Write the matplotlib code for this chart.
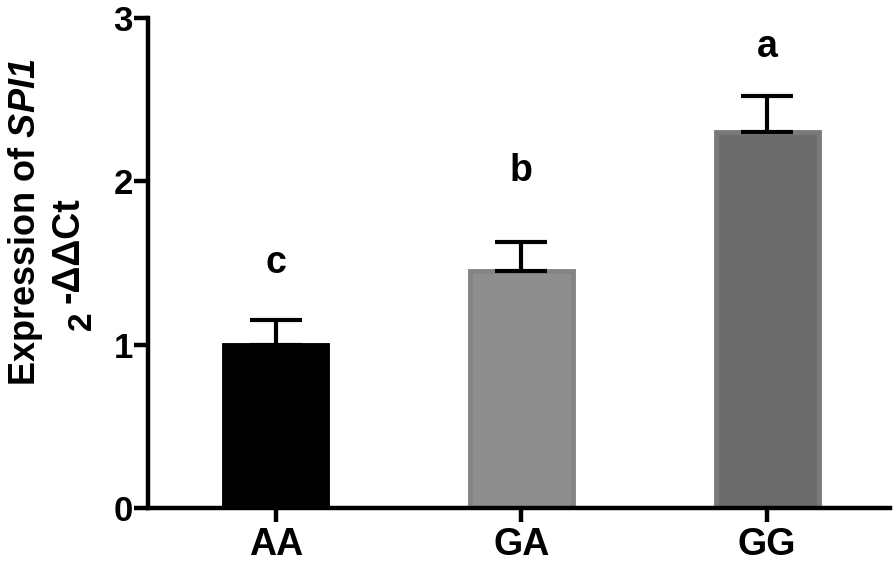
import matplotlib.pyplot as plt

plt.rcParams['font.family'] = ['Liberation Sans', 'DejaVu Sans']
plt.rcParams['font.weight'] = 'bold'
plt.rcParams['mathtext.fontset'] = 'custom'
plt.rcParams['mathtext.rm'] = 'Liberation Sans:bold'
plt.rcParams['mathtext.bf'] = 'Liberation Sans:bold'
plt.rcParams['mathtext.it'] = 'Liberation Sans:bold'
plt.rcParams['mathtext.sf'] = 'Liberation Sans:bold:italic'

# data
genotypes = ['AA', 'GA', 'GG']
expr = [1.00, 1.45, 2.30]
sem = [0.15, 0.18, 0.22]
letters = ['c', 'b', 'a']
letter_y = [1.44, 2.00, 2.76]

fill_colors = ['#000000', '#8e8e8e', '#6c6c6c']
edge_colors = ['#000000', '#848484', '#7a7a7a']

W, H = 894, 572
fig = plt.figure(figsize=(W / 100, H / 100), dpi=100)
ax = fig.add_axes([0.1655, 0.112, 0.83, 0.857])

x = list(range(len(genotypes)))
ax.bar(x, expr, width=0.42, color=fill_colors, edgecolor=edge_colors,
       linewidth=3.5, zorder=2)
ax.errorbar(x, expr, yerr=[[0] * len(sem), sem], fmt='none', ecolor='black',
            elinewidth=3, capsize=19, capthick=3, zorder=3)

for xi, lab, ly in zip(x, letters, letter_y):
    ax.text(xi, ly, lab, ha='center', va='baseline', fontsize=27, fontweight='bold')

ax.set_xlim(-0.52, 2.5)
ax.set_ylim(0, 3)
ax.set_yticks([0, 1, 2, 3])
ax.set_xticks(x)
ax.set_xticklabels(genotypes)

for s in ['top', 'right']:
    ax.spines[s].set_visible(False)
for s in ['left', 'bottom']:
    ax.spines[s].set_linewidth(3.2)
ax.tick_params(axis='both', width=3.2, length=10)
ax.tick_params(axis='y', pad=1, labelsize=25)
ax.tick_params(axis='x', pad=4, labelsize=27)

# y label: two lines, the second one is 2^-ΔΔCt
fig.text(0.028, 0.612, r'Expression of $\mathsf{SPI1}$', rotation=90,
         ha='center', va='center', fontsize=26, fontweight='bold')
fig.text(91 / W, 1 - 330 / H, '2', rotation=90, rotation_mode='anchor',
         ha='left', va='baseline', fontsize=24, fontweight='bold')
fig.text(79 / W, 1 - 303 / H, '-\u0394\u0394Ct', rotation=90, rotation_mode='anchor',
         ha='left', va='baseline', fontsize=27, fontweight='bold')

fig.savefig('out.png', dpi=100)
